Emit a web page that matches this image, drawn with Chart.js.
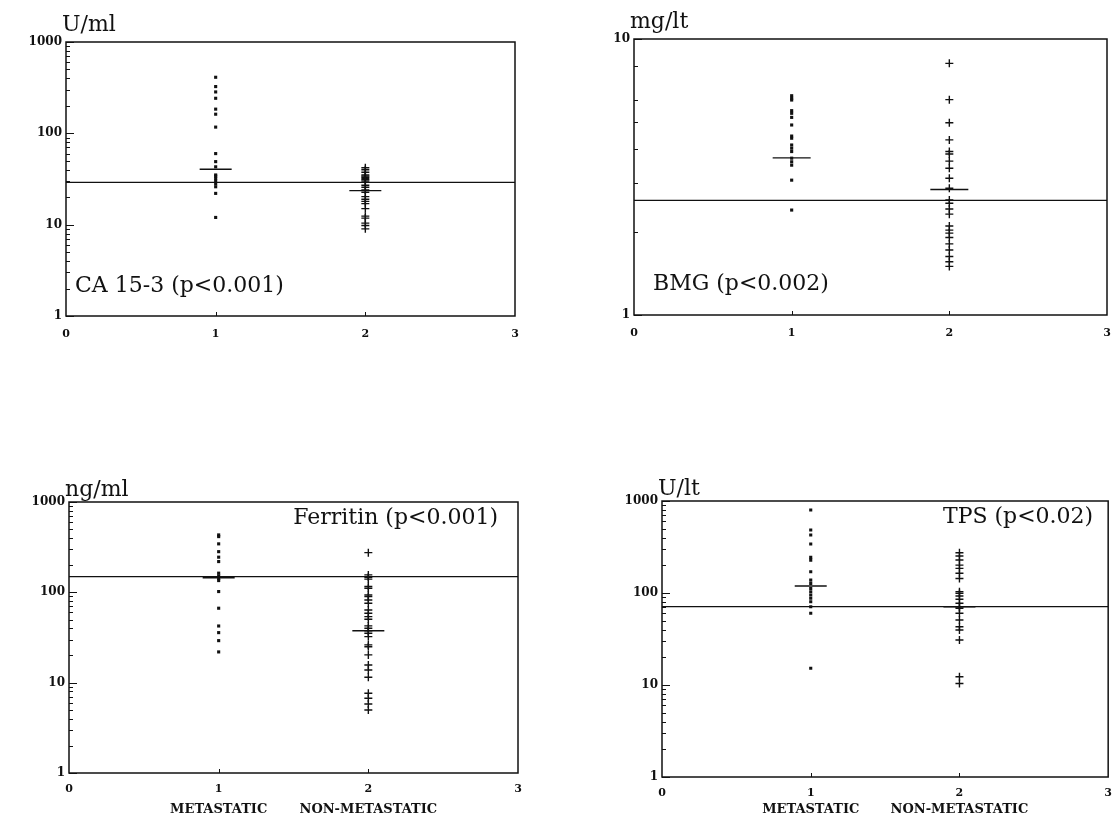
<!DOCTYPE html>
<html>
<head>
<meta charset="utf-8">
<script src="https://cdn.jsdelivr.net/npm/chart.js@4/dist/chart.umd.min.js"></script>
<style>
  body { margin: 0; background: #fff; }
  #page { position: relative; width: 1112px; height: 820px; overflow: hidden; }
  canvas { position: absolute; }
</style>
</head>
<body>
<div id="page">
  <canvas id="pCA" width="556" height="400" style="left:0;top:0"></canvas>
  <canvas id="pBMG" width="556" height="400" style="left:556px;top:0"></canvas>
  <canvas id="pFER" width="556" height="410" style="left:0;top:410px"></canvas>
  <canvas id="pTPS" width="556" height="410" style="left:556px;top:410px"></canvas>
</div>
<script>
// x axis
var xTicks = [0, 1, 2, 3];
var groupNames = ['METASTATIC', 'NON-METASTATIC'];

// y axis ticks
var logTicks1000 = [1,2,3,4,5,6,7,8,9,10,20,30,40,50,60,70,80,90,100,200,300,400,500,600,700,800,900,1000];
var logLabels1000 = [1, 10, 100, 1000];
var logTicks10 = [1,2,3,4,5,6,8,10];
var logLabels10 = [1, 10];

// CA 15-3 (U/ml)
var caMet = [411, 325, 284, 242, 184, 162, 117, 60, 49, 43, 35, 34, 32, 30, 28, 26, 22, 12];
var caNon = [42, 40, 37.5, 35, 34, 33, 32, 31, 30, 27, 25.7, 24, 22.6, 20.3, 19, 18, 17, 15, 12.4, 11.8, 10.4, 9.8, 9];
var caMeans = [40.4, 23.6];
var caCutoff = 29;

// BMG (mg/lt)
var bmgMet = [6.23, 6.10, 6.01, 5.50, 5.38, 5.20, 4.88, 4.45, 4.37, 4.13, 4.02, 3.91, 3.70, 3.59, 3.49, 3.08, 2.40];
var bmgNon = [8.16, 6.03, 4.97, 4.31, 3.91, 3.83, 3.61, 3.40, 3.13, 2.88, 2.61, 2.54, 2.42, 2.32, 2.10, 2.03, 1.98, 1.91, 1.81, 1.72, 1.63, 1.56, 1.50];
var bmgMeans = [3.71, 2.85];
var bmgCutoff = 2.6;

// Ferritin (ng/ml)
var ferMet = [432, 414, 344, 282, 245, 219, 163, 152, 143, 135, 102, 66.7, 42.4, 35.8, 29.2, 21.9];
var ferNon = [275, 156, 147, 140, 116, 111, 93.5, 89.6, 82.4, 75.7, 63.8, 58.7, 53.9, 50.4, 42.5, 40, 37.6, 35.2, 32.3, 26.2, 25, 20.3, 15.7, 13.8, 11.5, 7.64, 6.71, 5.81, 4.99];
var ferMeans = [145, 37.5];
var ferCutoff = 149;

// TPS (U/lt)
var tpsMet = [798, 484, 427, 341, 244, 228, 170, 138, 127, 112, 103, 95, 87.6, 80.4, 70.9, 60.2, 15.2];
var tpsNon = [274, 252, 228, 201, 185, 164, 144, 103, 99, 92.8, 85.4, 77.3, 71, 68.2, 60.2, 50.9, 43, 39.6, 30.8, 12.3, 10.4];
var tpsMeans = [119, 71];
var tpsCutoff = 71;

var FONT = '"DejaVu Serif", "Liberation Serif", serif';
var INK = '#111';

function makePanel(id, cfg) {
    var deco = {
        id: 'deco',
        afterDraw: function(chart) {
            var ctx = chart.ctx, a = chart.chartArea, ys = chart.scales.y, xs = chart.scales.x;
            ctx.save();
            ctx.strokeStyle = INK;
            ctx.lineWidth = 1.5;
            ctx.strokeRect(a.left, a.top, a.right - a.left, a.bottom - a.top);
            ctx.lineWidth = 1;
            ctx.beginPath();
            ys.ticks.forEach(function(t) {
                var y = Math.round(ys.getPixelForValue(t.value)) + 0.5;
                var len = cfg.yLabels.indexOf(t.value) >= 0 ? 8 : 4;
                ctx.moveTo(a.left, y);
                ctx.lineTo(a.left + len, y);
            });
            [1, 2].forEach(function(v) {
                var x = Math.round(xs.getPixelForValue(v)) + 0.5;
                ctx.moveTo(x, a.bottom);
                ctx.lineTo(x, a.bottom - 4);
            });
            ctx.stroke();
            ctx.fillStyle = INK;
            ctx.textBaseline = 'alphabetic';
            ctx.textAlign = 'left';
            ctx.font = '22px ' + FONT;
            ctx.fillText(cfg.unit, a.left - 4, a.top + cfg.unitDy);
            if (cfg.noteAlign === 'right') {
                ctx.textAlign = 'right';
                ctx.fillText(cfg.note, a.right - cfg.noteDx, a.top + cfg.noteDy);
            } else {
                ctx.fillText(cfg.note, a.left + cfg.noteDx, a.bottom - cfg.noteDy);
            }
            ctx.restore();
        }
    };

    var scales = {
        x: {
            type: 'linear', min: 0, max: 3, weight: 0,
            afterBuildTicks: function(s) { s.ticks = xTicks.map(function(v) { return { value: v }; }); },
            ticks: { color: INK, padding: 0, font: { family: FONT, weight: 'bold', size: 11 },
                     callback: function(v) { return String(v); } },
            grid: { display: false, drawTicks: true, tickLength: cfg.xGap },
            border: { display: false },
            afterFit: function(s) { s.height = cfg.xH; }
        },
        y: {
            type: 'logarithmic', min: cfg.yTicks[0], max: cfg.yTicks[cfg.yTicks.length - 1],
            afterBuildTicks: function(s) { s.ticks = cfg.yTicks.map(function(v) { return { value: v }; }); },
            ticks: { color: INK, padding: 4, autoSkip: false, font: { family: FONT, weight: 'bold', size: 12 },
                     callback: function(v) { return cfg.yLabels.indexOf(v) >= 0 ? String(v) : ''; } },
            grid: { display: false, drawTicks: false },
            border: { display: false },
            afterFit: function(s) { s.width = cfg.yW; }
        }
    };
    if (cfg.x2H) {
        scales.x2 = {
            type: 'linear', position: 'bottom', min: 0, max: 3, weight: 1,
            afterBuildTicks: function(s) { s.ticks = [1, 2].map(function(v) { return { value: v }; }); },
            ticks: { color: INK, padding: 0, font: { family: FONT, weight: 'bold', size: 13 },
                     callback: function(v) { return groupNames[v - 1] || ''; } },
            grid: { display: false, drawTicks: true, tickLength: cfg.x2Gap },
            border: { display: false },
            afterFit: function(s) { s.height = cfg.x2H; }
        };
    }

    new Chart(document.getElementById(id), {
        type: 'scatter',
        data: {
            datasets: [
                { data: cfg.met.map(function(v) { return { x: 1, y: v }; }),
                  pointStyle: 'rect', pointRadius: 2.2, backgroundColor: INK, borderWidth: 0 },
                { data: cfg.non.map(function(v) { return { x: 2, y: v }; }),
                  pointStyle: 'cross', pointRadius: 4, borderColor: INK, borderWidth: 1.4 },
                { data: cfg.means.map(function(v, i) { return { x: i + 1, y: v }; }),
                  pointStyle: 'line', pointRadius: cfg.meanHalf, borderColor: INK, borderWidth: 1.4 },
                { data: [{ x: 0, y: cfg.cutoff }, { x: 3, y: cfg.cutoff }],
                  showLine: true, pointRadius: 0, borderColor: INK, borderWidth: 1.3 }
            ]
        },
        options: {
            responsive: false,
            animation: false,
            events: [],
            layout: { padding: cfg.pad, autoPadding: false },
            plugins: { legend: { display: false }, tooltip: { enabled: false } },
            scales: scales
        },
        plugins: [deco]
    });
}

makePanel('pCA', {
    met: caMet, non: caNon, means: caMeans, cutoff: caCutoff, meanHalf: 16,
    yTicks: logTicks1000, yLabels: logLabels1000,
    pad: { top: 42, right: 41, left: 0, bottom: 0 }, yW: 66, xH: 84, xGap: 12,
    unit: 'U/ml', unitDy: -11, note: 'CA 15-3 (p<0.001)', noteAlign: 'left', noteDx: 9, noteDy: 24
});
makePanel('pBMG', {
    met: bmgMet, non: bmgNon, means: bmgMeans, cutoff: bmgCutoff, meanHalf: 19,
    yTicks: logTicks10, yLabels: logLabels10,
    pad: { top: 39, right: 5, left: 0, bottom: 0 }, yW: 78, xH: 85, xGap: 12,
    unit: 'mg/lt', unitDy: -11, note: 'BMG (p<0.002)', noteAlign: 'left', noteDx: 19, noteDy: 25
});
makePanel('pFER', {
    met: ferMet, non: ferNon, means: ferMeans, cutoff: ferCutoff, meanHalf: 16,
    yTicks: logTicks1000, yLabels: logLabels1000,
    pad: { top: 92, right: 38, left: 0, bottom: 0 }, yW: 69, xH: 26, xGap: 10, x2H: 21, x2Gap: 3,
    unit: 'ng/ml', unitDy: -6, note: 'Ferritin (p<0.001)', noteAlign: 'right', noteDx: 20, noteDy: 22
});
makePanel('pTPS', {
    met: tpsMet, non: tpsNon, means: tpsMeans, cutoff: tpsCutoff, meanHalf: 16,
    yTicks: logTicks1000, yLabels: logLabels1000,
    pad: { top: 91, right: 2, left: 0, bottom: 0 }, yW: 106, xH: 24, xGap: 10, x2H: 19, x2Gap: 1,
    unit: 'U/lt', unitDy: -6, note: 'TPS (p<0.02)', noteAlign: 'right', noteDx: 15, noteDy: 22
});
</script>
</body>
</html>
